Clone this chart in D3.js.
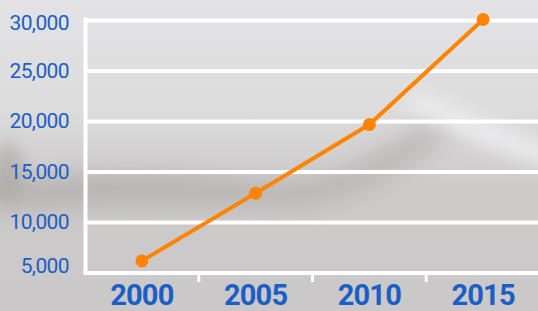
<!DOCTYPE html>
<html>
<head>
<meta charset="utf-8">
<script src="https://cdn.jsdelivr.net/npm/d3@7"></script>
<style>
  html, body { margin: 0; padding: 0; background: #d6d5d6; }
  svg { display: block; }
</style>
</head>
<body>
<div id="chart"></div>
<script>
// data
var years = ["2000", "2005", "2010", "2015"];
var values = [6200, 12900, 19700, 30100];
var yTicks = [5000, 10000, 15000, 20000, 25000, 30000];

var w = 538;
var h = 311;

var svg = d3.select("#chart")
    .append("svg")
    .attr("width", w)
    .attr("height", h);

var defs = svg.append("defs");

var bg = defs.append("linearGradient")
    .attr("id", "bg")
    .attr("x1", 0).attr("y1", 0).attr("x2", 0).attr("y2", 1);
bg.append("stop").attr("offset", "0%").attr("stop-color", "#e3e3e5");
bg.append("stop").attr("offset", "35%").attr("stop-color", "#dcdcdd");
bg.append("stop").attr("offset", "60%").attr("stop-color", "#cdcaca");
bg.append("stop").attr("offset", "100%").attr("stop-color", "#cbc8c9");

defs.append("filter")
    .attr("id", "blur")
    .attr("x", "-50%").attr("y", "-50%").attr("width", "200%").attr("height", "200%")
  .append("feGaussianBlur")
    .attr("stdDeviation", 12);

defs.append("filter")
    .attr("id", "blur2")
    .attr("x", "-50%").attr("y", "-50%").attr("width", "200%").attr("height", "200%")
  .append("feGaussianBlur")
    .attr("stdDeviation", 8);

svg.append("rect")
    .attr("width", w)
    .attr("height", h)
    .style("fill", "url(#bg)");

// photo-like shading in the background
var shade = svg.append("g");
shade.append("path")
    .attr("d", "M-20,185 C60,172 150,168 260,182 C330,192 380,150 430,120 L455,132 C400,172 340,210 260,206 C160,200 60,208 -20,210 Z")
    .style("fill", "#a29d9b")
    .style("opacity", 0.5)
    .attr("filter", "url(#blur)");
shade.append("path")
    .attr("d", "M420,92 C470,110 510,130 560,148 L560,170 C500,158 450,130 400,106 Z")
    .style("fill", "#f0f0f2")
    .style("opacity", 0.75)
    .attr("filter", "url(#blur2)");
shade.append("ellipse")
    .attr("cx", 8).attr("cy", 170).attr("rx", 16).attr("ry", 28)
    .style("fill", "#9a9690")
    .style("opacity", 0.45)
    .attr("filter", "url(#blur2)");

var xScale = d3.scaleBand()
    .domain(years)
    .range([85, 540])
    .padding(0);

var yScale = d3.scaleLinear()
    .domain([5000, 30000])
    .range([273, 20.5]);

var blue = "#1b5fc6";
var orange = "#ff8500";

// horizontal grid
svg.append("g")
    .selectAll("line")
    .data(yTicks)
    .enter()
    .append("line")
    .attr("x1", 85)
    .attr("x2", w)
    .attr("y1", function(d) { return yScale(d); })
    .attr("y2", function(d) { return yScale(d); })
    .style("stroke", "white")
    .style("stroke-width", 4);

// left axis line
svg.append("line")
    .attr("x1", 85.5).attr("x2", 85.5)
    .attr("y1", yScale(30000) - 3)
    .attr("y2", yScale(5000) + 2)
    .style("stroke", "white")
    .style("stroke-width", 4);

// x tick marks between the categories
svg.append("g")
    .selectAll("line")
    .data(years.slice(1))
    .enter()
    .append("line")
    .attr("x1", function(d) { return xScale(d); })
    .attr("x2", function(d) { return xScale(d); })
    .attr("y1", 273)
    .attr("y2", 282)
    .style("stroke", "white")
    .style("stroke-width", 3);

// y labels
svg.append("g")
    .selectAll("text")
    .data(yTicks)
    .enter()
    .append("text")
    .attr("x", 69)
    .attr("y", function(d) {
        if (d == 5000) return yScale(d) - 7;
        if (d == 30000) return yScale(d) + 2.5;
        return yScale(d) - 0.5;
    })
    .attr("text-anchor", "end")
    .attr("dominant-baseline", "central")
    .style("font-family", "Roboto, 'Open Sans', sans-serif")
    .style("font-size", "21px")
    .style("letter-spacing", "-0.6px")
    .style("fill", blue)
    .text(function(d) { return d3.format(",")(d); });

// x labels
svg.append("g")
    .selectAll("text")
    .data(years)
    .enter()
    .append("text")
    .attr("x", function(d) { return xScale(d) + xScale.bandwidth() / 2; })
    .attr("y", 305)
    .attr("text-anchor", "middle")
    .style("font-family", "Roboto, 'Open Sans', sans-serif")
    .style("font-weight", "bold")
    .style("font-size", "29px")
    .style("letter-spacing", "-0.8px")
    .style("fill", blue)
    .text(function(d) { return d; });

var pts = years.map(function(y, i) { return { year: y, value: values[i] }; });

var line = d3.line()
    .x(function(d) { return xScale(d.year) + xScale.bandwidth() / 2; })
    .y(function(d) { return yScale(d.value); });

svg.append("path")
    .datum(pts)
    .attr("d", line)
    .style("fill", "none")
    .style("stroke", orange)
    .style("stroke-width", 4);

svg.append("g")
    .selectAll("circle")
    .data(pts)
    .enter()
    .append("circle")
    .attr("cx", function(d) { return xScale(d.year) + xScale.bandwidth() / 2; })
    .attr("cy", function(d) { return yScale(d.value); })
    .attr("r", 6.5)
    .style("fill", orange);
</script>
</body>
</html>
